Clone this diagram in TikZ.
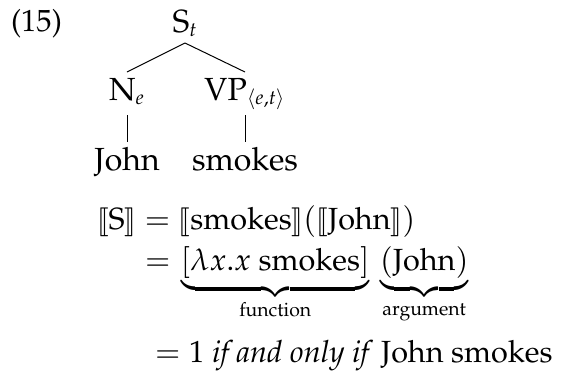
\documentclass[tikz,border=0pt]{standalone}
\usepackage[T1]{fontenc}
\usepackage{amsmath}
\usepackage{mathtools}
\usepackage{mathpazo}
\usepackage{stmaryrd}
\DeclareMathSizes{16}{16}{10}{8}
\DeclareMathSizes{15.3}{15.3}{9.7}{7.5}
\begin{document}
\begin{tikzpicture}[x=0.5pt,y=-0.5pt,
  every node/.style={inner sep=0pt,outer sep=0pt},
  treefont/.style={font=\fontsize{16}{19}\selectfont},
  eqfont/.style={font=\fontsize{15.3}{18}\selectfont},
  lab/.style={anchor=base,treefont},
  eq/.style={anchor=base west,eqfont},
  ln/.style={line width=0.5pt}]
\useasboundingbox (0,0) rectangle (562,371);
\node[eq] (num) at (11,31) {(15)};
\node[lab,text depth=5.5pt] (S) at (185,32) {S$_t$};
\node[lab,text height=14pt,text depth=7.5pt] (N) at (127,100) {N$_e$};
\node[lab,text height=14pt,text depth=7.5pt] (VP) at (245,100) {VP$_{\langle e,t\rangle}$};
\node[lab,text height=14pt] (J) at (127,170) {John};
\node[lab,text height=14pt] (Sm) at (245,170) {smokes};
\draw[ln] (S.south) -- (N.north);
\draw[ln] (S.south) -- (VP.north);
\draw[ln] (N.south) -- (J.north);
\draw[ln] (VP.south) -- (Sm.north);
\node[eq] (l1) at (97,229) {$\llbracket\text{S}\rrbracket = \llbracket\text{smokes}\rrbracket(\llbracket\text{John}\rrbracket)$};
\node[eq] (l2) at (145,270) {${=}\mkern3mu \underbrace{[\lambda x.x\ \text{smokes}]}_{\mathclap{\text{function}}}\,\underbrace{(\text{John})}_{\mathclap{\text{argument}}}$};
\node[eq] (l3) at (155,362) {$=1$ \textit{if and only if} John smokes};
\end{tikzpicture}
\end{document}
